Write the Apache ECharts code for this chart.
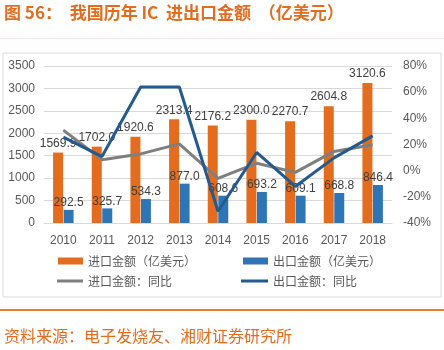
<!DOCTYPE html>
<html>
<head>
<meta charset="utf-8">
<script src="https://cdn.jsdelivr.net/npm/echarts@6/dist/echarts.min.js"></script>
<style>
  html, body { margin:0; padding:0; background:#fff; }
  #main { width:444px; height:350px; }
</style>
</head>
<body>
<div id="main"></div>
<script>
// 我国历年IC进出口金额
var years = ['2010', '2011', '2012', '2013', '2014', '2015', '2016', '2017', '2018'];
var importAmt = [1569.9, 1702.0, 1920.6, 2313.4, 2176.2, 2300.0, 2270.7, 2604.8, 3120.6];
var exportAmt = [292.5, 325.7, 534.3, 877.0, 608.6, 693.2, 609.1, 668.8, 846.4];
var importYoy = [31.0, 8.4, 12.8, 20.5, -5.9, 5.7, -1.3, 14.7, 19.8];
var exportYoy = [25.7, 10.8, 64.0, 64.0, -31.0, 13.9, -12.1, 9.8, 26.6];

var cnFont = 'Noto Sans CJK SC';
var numFont = 'Liberation Sans';

var myChart = echarts.init(document.getElementById('main'));
var legendText = { fontFamily: cnFont, fontSize: 12, color: '#595959' };
var option = {
    animation: false,
    graphic: [
        {
            type: 'text', left: 4, top: 4,
            style: { text: '图 56：  我国历年 IC  进出口金额  （亿美元）', fill: '#E46C1E',
                font: 'bold 17px "Noto Sans CJK SC"' }
        },
        {
            type: 'rect', shape: { x: 0, y: 38, width: 444, height: 1 },
            style: { fill: '#f6e9e0' }
        },
        {
            type: 'rect', shape: { x: 3, y: 53, width: 438, height: 244 },
            style: { fill: 'none', stroke: '#d9d9d9', lineWidth: 1 }
        },
        {
            type: 'rect', shape: { x: 0, y: 309, width: 444, height: 2 },
            style: { fill: '#ED7D31' }
        },
        {
            type: 'text', left: 4, top: 328,
            style: { text: '资料来源：电子发烧友、湘财证券研究所', fill: '#E46C1E',
                font: '16px "Noto Sans CJK SC"' }
        }
    ],
    grid: {
        left: 44,
        right: 52,
        top: 66,
        bottom: 127
    },
    legend: [
        { left: 58, top: 255, padding: 0, itemWidth: 25, itemHeight: 7, icon: 'rect',
          textStyle: legendText, data: ['进口金额（亿美元）'] },
        { left: 243, top: 255, padding: 0, itemWidth: 25, itemHeight: 7, icon: 'rect',
          textStyle: legendText, data: ['出口金额（亿美元）'] },
        { left: 57, top: 275, padding: 0, itemWidth: 26, itemHeight: 3, icon: 'rect',
          textStyle: legendText, data: ['进口金额：同比'] },
        { left: 241, top: 275, padding: 0, itemWidth: 27, itemHeight: 3, icon: 'rect',
          textStyle: legendText, data: ['出口金额：同比'] }
    ],
    xAxis: {
        type: 'category',
        data: years,
        axisTick: { show: false },
        axisLine: { lineStyle: { color: '#d9d9d9' } },
        axisLabel: { color: '#595959', fontFamily: numFont, fontSize: 12, margin: 12 }
    },
    yAxis: [
        {
            type: 'value',
            min: 0, max: 3500, interval: 500,
            axisLine: { show: false },
            axisTick: { show: false },
            splitLine: { lineStyle: { color: '#d9d9d9' } },
            axisLabel: { color: '#595959', fontFamily: numFont, fontSize: 12, margin: 9,
                formatter: function (v) { return String(v); } }
        },
        {
            type: 'value',
            min: -40, max: 80, interval: 20,
            axisLine: { show: false },
            axisTick: { show: false },
            splitLine: { show: false },
            axisLabel: { color: '#595959', fontFamily: numFont, fontSize: 12, margin: 11,
                formatter: '{value}%' }
        }
    ],
    series: [
        {
            name: '进口金额（亿美元）',
            type: 'bar',
            barWidth: 10,
            barGap: '5%',
            data: importAmt,
            itemStyle: { color: '#E46C1E' },
            label: { show: true, position: 'top', distance: 3, color: '#404040',
                fontFamily: numFont, fontSize: 12,
                formatter: function (p) { return p.value.toFixed(1); } }
        },
        {
            name: '出口金额（亿美元）',
            type: 'bar',
            barWidth: 10,
            data: exportAmt,
            itemStyle: { color: '#2E75B6' },
            label: { show: true, position: 'top', distance: 1, color: '#404040',
                fontFamily: numFont, fontSize: 12,
                formatter: function (p) { return p.value.toFixed(1); } }
        },
        {
            name: '进口金额：同比',
            type: 'line',
            yAxisIndex: 1,
            symbol: 'none',
            data: importYoy,
            itemStyle: { color: '#7F7F7F' },
            lineStyle: { width: 3, color: '#7F7F7F' },
            z: 3
        },
        {
            name: '出口金额：同比',
            type: 'line',
            yAxisIndex: 1,
            symbol: 'none',
            data: exportYoy,
            itemStyle: { color: '#235B8E' },
            lineStyle: { width: 3, color: '#235B8E' },
            z: 4
        }
    ]
};
myChart.setOption(option);
</script>
</body>
</html>
